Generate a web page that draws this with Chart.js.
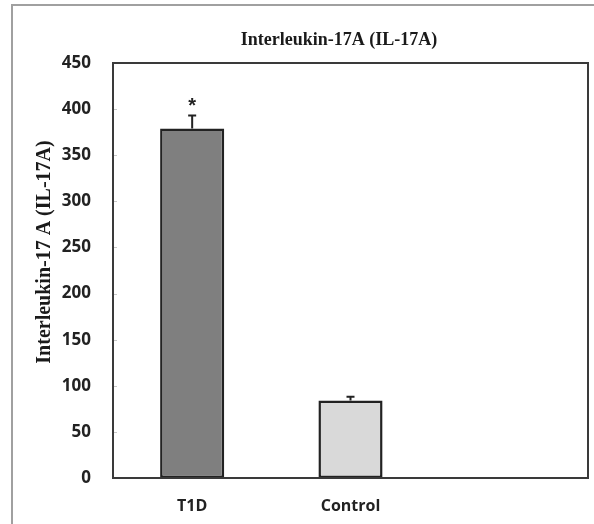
<!DOCTYPE html>
<html>
<head>
<meta charset="utf-8">
<script src="https://cdn.jsdelivr.net/npm/chart.js@4.4.0/dist/chart.umd.min.js"></script>
<style>
  html, body { margin: 0; padding: 0; background: #fff; }
  #wrap { width: 594px; height: 524px; position: relative; }
</style>
</head>
<body>
<div id="wrap"><canvas id="chart" width="594" height="524"></canvas></div>
<script>
'use strict';

let groups = ['T1D', 'Control', ''];
let meanValues = [379, 84, null];
let errorValues = [14, 4, null];
let marks = ['*', '', ''];
let barColors = ['#7f7f7f', '#d9d9d9', '#ffffff'];
let chartTitle = 'Interleukin-17A (IL-17A)';
let yTitle = 'Interleukin-17 A (IL-17A)';

const ctx = document.getElementById('chart');

// frame, plot box, error bars, star and titles
const extras = {
  id: 'extras',
  beforeDraw(chart){
    let c = chart.ctx;
    c.save();
    c.strokeStyle = '#a0a0a0';
    c.lineWidth = 2;
    c.beginPath();
    c.moveTo(12, 524);
    c.lineTo(12, 5);
    c.lineTo(594, 5);
    c.stroke();
    c.restore();
  },
  afterDatasetsDraw(chart){
    let c = chart.ctx;
    let area = chart.chartArea;
    let y = chart.scales.y;
    let meta = chart.getDatasetMeta(0);
    c.save();
    // little inner ticks
    c.strokeStyle = '#c8c8c8';
    c.lineWidth = 1;
    for(let v=50; v<450; v+=50){
      let py = Math.round(y.getPixelForValue(v)) + 0.5;
      c.beginPath();
      c.moveTo(area.left, py);
      c.lineTo(area.left + 4, py);
      c.stroke();
    }
    // error bars
    c.strokeStyle = '#222';
    c.lineWidth = 2;
    for(let i=0; i<meanValues.length; i++){
      if(meanValues[i] === null) continue;
      let x = meta.data[i].x;
      let top = y.getPixelForValue(meanValues[i] + errorValues[i]);
      let base = y.getPixelForValue(meanValues[i]);
      c.beginPath();
      c.moveTo(x, base);
      c.lineTo(x, top);
      c.moveTo(x - 4, top);
      c.lineTo(x + 4, top);
      c.stroke();
      if(marks[i]){
        c.fillStyle = '#222';
        c.font = 'bold 20px "Liberation Sans"';
        c.textAlign = 'center';
        c.textBaseline = 'middle';
        c.fillText(marks[i], x, top - 9);
      }
    }
    // plot box
    c.strokeStyle = '#3a3a3a';
    c.lineWidth = 2;
    c.strokeRect(area.left, area.top, area.right - area.left, area.bottom - area.top);
    // titles
    c.fillStyle = '#1a1a1a';
    c.font = 'bold 18px "Liberation Serif"';
    c.textAlign = 'center';
    c.textBaseline = 'middle';
    c.fillText(chartTitle, 339, 40);
    c.translate(45, 252);
    c.rotate(-Math.PI / 2);
    c.font = 'bold 20px "Liberation Serif"';
    c.fillText(yTitle, 0, 0);
    c.restore();
  }
};

const chartConfig = {
  type: 'bar',
  data: {
    labels: groups,
    datasets: [{
      data: meanValues,
      backgroundColor: barColors,
      borderColor: '#222',
      borderWidth: 2.5,
      borderSkipped: false,
      categoryPercentage: 1,
      barPercentage: 0.405
    }]
  },
  options: {
    responsive: false,
    animation: false,
    layout: { padding: { left: 0, right: 6, top: 63, bottom: 0 } },
    plugins: {
      legend: { display: false },
      tooltip: { enabled: false }
    },
    scales: {
      x: {
        grid: { display: false },
        border: { display: false },
        ticks: {
          color: '#222',
          padding: 11,
          font: { family: '"Open Sans"', size: 16, weight: 'bold' }
        },
        afterFit(scale){ scale.height = 46; }
      },
      y: {
        min: 0,
        max: 450,
        grid: { display: false },
        border: { display: false },
        ticks: {
          stepSize: 50,
          color: '#222',
          padding: 14,
          font: { family: '"Open Sans"', size: 17, weight: 'bold' }
        },
        afterFit(scale){ scale.width = 113; }
      }
    }
  },
  plugins: [extras]
};

new Chart(ctx, chartConfig);
</script>
</body>
</html>
